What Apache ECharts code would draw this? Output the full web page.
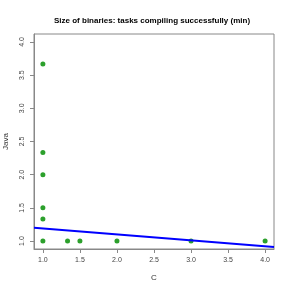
<!DOCTYPE html>
<html><head><meta charset="utf-8">
<script src="https://cdn.jsdelivr.net/npm/echarts@6/dist/echarts.min.js"></script>
<style>html,body{margin:0;padding:0;background:#fff}#c{width:291px;height:291px}</style>
</head><body><div id="c"></div>
<script>
var pointsC = [1, 1, 1, 1, 1, 1, 1.333, 1.5, 2, 3, 4];
var pointsJava = [3.667, 2.333, 2.0, 1.5, 1.333, 1.0, 1.0, 1.0, 1.0, 1.0, 1.0];
var fitC = [0.88, 4.12];
var fitJava = [1.20, 0.909];
var xTicks = [1.0, 1.5, 2.0, 2.5, 3.0, 3.5, 4.0];
var yTicks = [1.0, 1.5, 2.0, 2.5, 3.0, 3.5, 4.0];
var titleText = 'Size of binaries: tasks compiling successfully (min)';

var chart = echarts.init(document.getElementById('c'), null, {renderer: 'canvas'});
var font = 'Liberation Sans';
chart.setOption({
  animation: false,
  title: {text: titleText, left: 49, top: 12,
    textStyle: {fontFamily: font, fontSize: 8, fontWeight: 'bold', color: '#000'}},
  grid: {left: 34, right: 17, top: 34, bottom: 42, show: true, borderColor: '#888', borderWidth: 1,
    backgroundColor: 'transparent', containLabel: false, outerBoundsMode: 'none'},
  xAxis: {type: 'value', min: 0.88, max: 4.12, name: 'C', nameLocation: 'middle', nameGap: 25,
    nameTextStyle: {fontFamily: font, fontSize: 8, color: '#333'},
    axisLine: {show: true, onZero: false, lineStyle: {color: '#888'}},
    axisTick: {show: true, length: 4, customValues: xTicks, lineStyle: {color: '#888'}},
    axisLabel: {customValues: xTicks, margin: 8, fontFamily: font, fontSize: 7, color: '#444',
      formatter: function(v){return v.toFixed(1);}},
    splitLine: {show: false}},
  yAxis: {type: 'value', min: 0.88, max: 4.12, name: 'Java', nameLocation: 'middle', nameGap: 24,
    nameTextStyle: {fontFamily: font, fontSize: 8, color: '#333'},
    axisLine: {show: true, onZero: false, lineStyle: {color: '#888'}},
    axisTick: {show: true, length: 4, customValues: yTicks, lineStyle: {color: '#888'}},
    axisLabel: {customValues: yTicks, rotate: 90, margin: 8, fontFamily: font, fontSize: 7, color: '#444',
      formatter: function(v){return v.toFixed(1);}},
    splitLine: {show: false}},
  series: [
    {type: 'scatter', data: pointsC.map(function(c, i){return [c, pointsJava[i]];}),
      symbol: 'circle', symbolSize: 5, itemStyle: {color: '#2ca02c', opacity: 1}, z: 3},
    {type: 'line', data: fitC.map(function(c, i){return [c, fitJava[i]];}),
      symbol: 'none', lineStyle: {color: '#0000ff', width: 2}, z: 4, clip: true}
  ]
});
</script></body></html>
